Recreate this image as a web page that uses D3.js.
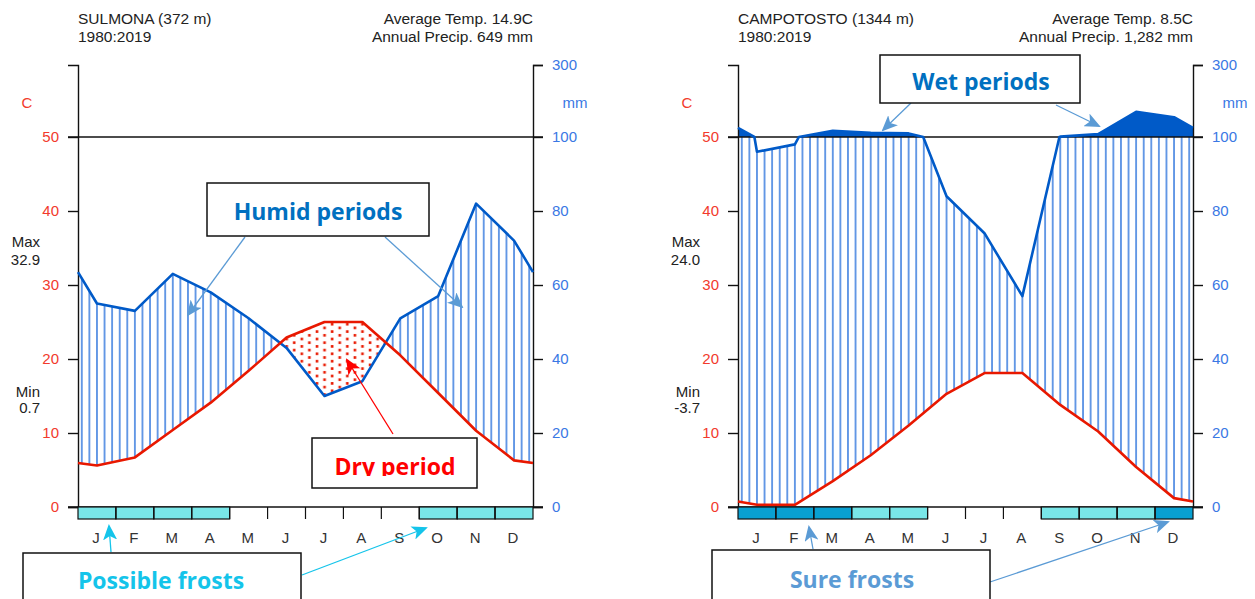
<!DOCTYPE html>
<html>
<head>
<meta charset="utf-8">
<title>Walter-Lieth diagrams</title>
<script src="https://cdn.jsdelivr.net/npm/d3@7"></script>
<style>
  body { margin: 0; background: #fff; }
  text { font-family: "Liberation Sans", Arial, sans-serif; }
  .note { font-family: "Open Sans", Lato, sans-serif; font-weight: bold; }
</style>
</head>
<body>
<svg id="chart" width="1255" height="599"></svg>
<script>
var months = ['J', 'F', 'M', 'A', 'M', 'J', 'J', 'A', 'S', 'O', 'N', 'D'];
var tempTicks = [0, 10, 20, 30, 40, 50];
var precTicks = [0, 20, 40, 60, 80, 100, 300];

// Sulmona, mean monthly precipitation (mm) and temperature (C)
var sulmonaPrec = [55, 53, 63, 58, 51, 43, 30, 34, 51, 57, 82, 72];
var sulmonaTemp = [5.6, 6.7, 10.4, 14.1, 18.4, 22.9, 25.0, 25.0, 20.5, 15.4, 10.3, 6.3];
// frost: 0 none, 1 possible, 2 sure
var sulmonaFrost = [1, 1, 1, 1, 0, 0, 0, 0, 0, 1, 1, 1];

// Campotosto
var campoPrec = [96, 98, 117, 112, 110, 84, 74, 57, 101, 108, 170, 155];
var campoTemp = [0.3, 0.3, 3.5, 7.0, 11.0, 15.3, 18.1, 18.1, 13.8, 10.2, 5.4, 1.2];
var campoFrost = [2, 2, 2, 1, 1, 0, 0, 0, 1, 1, 1, 2];

var pcol = '#005ac8', tcol = '#e81800';
var pfcol = '#79e6e8', sfcol = '#09a0d1';

var svg = d3.select('#chart');
var defs = svg.append('defs');

// arrow heads
function marker(id, color) {
  defs.append('marker')
    .attr('id', id)
    .attr('markerUnits', 'userSpaceOnUse')
    .attr('markerWidth', 16).attr('markerHeight', 14)
    .attr('refX', 14).attr('refY', 7)
    .attr('orient', 'auto')
    .append('path')
      .attr('d', 'M0,0 L16,7 L0,14 L4,7 Z')
      .attr('fill', color);
}
marker('arr-blue', '#5b9bd5');
marker('arr-red', '#ff0000');
marker('arr-cyan', '#14c4ea');

// add the month edges (mean of Dec and Jan) and the points where a series crosses 100 mm
function monthPoints(vals) {
  var edge = (vals[0] + vals[11]) / 2;
  var pts = [{ m: 0, v: edge }];
  vals.forEach(function(v, i) { pts.push({ m: i + 0.5, v: v }); });
  pts.push({ m: 12, v: edge });
  return pts;
}
function withCrossings(pts, level) {
  var out = [pts[0]];
  for (var i = 1; i < pts.length; i++) {
    var a = pts[i - 1], b = pts[i];
    if ((a.v - level) * (b.v - level) < 0) {
      var f = (level - a.v) / (b.v - a.v);
      out.push({ m: a.m + f * (b.m - a.m), v: level });
    }
    out.push(b);
  }
  return out;
}

function drawChart(cfg) {
  var left = cfg.left, right = left + 455;
  var g = svg.append('g');

  var x = d3.scaleLinear().domain([0, 12]).range([left, right]);
  var yT = d3.scaleLinear().domain([0, 50, 60]).range([507, 137, 65]);
  var yP = d3.scaleLinear().domain([0, 100, 300]).range([507, 137, 65]);

  var pPts = withCrossings(monthPoints(cfg.prec), 100);
  var tPts = monthPoints(cfg.temp);

  // patterns
  var step = 455 / 60;
  defs.append('pattern')
    .attr('id', cfg.id + '-hatch')
    .attr('patternUnits', 'userSpaceOnUse')
    .attr('x', left).attr('y', 0)
    .attr('width', step).attr('height', 10)
    .append('line')
      .attr('x1', step / 2).attr('x2', step / 2)
      .attr('y1', 0).attr('y2', 10)
      .attr('stroke', '#2a72dc').attr('stroke-width', 1.4);
  var dots = defs.append('pattern')
    .attr('id', cfg.id + '-dots')
    .attr('patternUnits', 'userSpaceOnUse')
    .attr('x', left).attr('y', 0)
    .attr('width', step * 2).attr('height', 7.4);
  dots.append('rect').attr('x', step / 2 - 1.2).attr('y', 1).attr('width', 2.6).attr('height', 2.6).attr('fill', tcol);
  dots.append('rect').attr('x', step * 1.5 - 1.2).attr('y', 4.7).attr('width', 2.6).attr('height', 2.6).attr('fill', tcol);

  // clips
  var belowPrec = d3.area().x(function(d) { return x(d.m); }).y0(507).y1(function(d) { return yP(d.v); });
  var abovePrec = d3.area().x(function(d) { return x(d.m); }).y0(yT(60)).y1(function(d) { return yP(d.v); });
  defs.append('clipPath').attr('id', cfg.id + '-below')
    .append('path').attr('d', belowPrec(pPts));
  defs.append('clipPath').attr('id', cfg.id + '-above')
    .append('path').attr('d', abovePrec(pPts));

  // humid hatch: above temperature, below precipitation, up to 100 mm
  g.append('path')
    .attr('d', d3.area().x(function(d) { return x(d.m); })
      .y0(function(d) { return yT(d.v); }).y1(yT(50))(tPts))
    .attr('fill', 'url(#' + cfg.id + '-hatch)')
    .attr('clip-path', 'url(#' + cfg.id + '-below)');

  // dry dots: below temperature, above precipitation
  g.append('path')
    .attr('d', d3.area().x(function(d) { return x(d.m); })
      .y0(507).y1(function(d) { return yT(d.v); })(tPts))
    .attr('fill', 'url(#' + cfg.id + '-dots)')
    .attr('clip-path', 'url(#' + cfg.id + '-above)');

  // very wet: solid above 100 mm
  g.append('rect')
    .attr('x', left).attr('y', yT(60))
    .attr('width', 455).attr('height', yT(50) - yT(60))
    .attr('fill', pcol)
    .attr('clip-path', 'url(#' + cfg.id + '-below)');

  // horizontal lines at 0 and 50
  [0, 50].forEach(function(v) {
    g.append('line')
      .attr('x1', left - 10).attr('x2', right + 10)
      .attr('y1', yT(v)).attr('y2', yT(v))
      .attr('stroke', '#111').attr('stroke-width', 1.4);
  });

  // axes
  var axL = g.append('g').attr('transform', 'translate(' + left + ',0)')
    .call(d3.axisLeft(yT).tickValues(tempTicks).tickSize(10).tickSizeOuter(10).tickPadding(9));
  var axR = g.append('g').attr('transform', 'translate(' + right + ',0)')
    .call(d3.axisRight(yP).tickValues(precTicks).tickSize(10).tickSizeOuter(10).tickPadding(9));
  [axL, axR].forEach(function(a) {
    a.selectAll('path, line').attr('stroke', '#111').attr('stroke-width', 1.4);
    a.selectAll('text').style('font-family', '"Liberation Sans", Arial, sans-serif').style('font-size', '15px');
  });
  axL.selectAll('text').attr('fill', '#f23a2c');
  axR.selectAll('text').attr('fill', '#3a78e4');

  // lines
  g.append('path')
    .attr('d', d3.line().x(function(d) { return x(d.m); }).y(function(d) { return yP(d.v); })(pPts))
    .attr('fill', 'none').attr('stroke', pcol).attr('stroke-width', 2.6)
    .attr('stroke-linejoin', 'round');
  g.append('path')
    .attr('d', d3.line().x(function(d) { return x(d.m); }).y(function(d) { return yT(d.v); })(tPts))
    .attr('fill', 'none').attr('stroke', tcol).attr('stroke-width', 2.6)
    .attr('stroke-linejoin', 'round');

  // frost row
  var fr = g.append('g');
  fr.selectAll('rect')
    .data(cfg.frost.map(function(f, i) { return { f: f, i: i }; }).filter(function(d) { return d.f > 0; }))
    .enter().append('rect')
      .attr('x', function(d) { return x(d.i); })
      .attr('y', 507)
      .attr('width', x(1) - x(0))
      .attr('height', 12)
      .attr('fill', function(d) { return d.f === 2 ? sfcol : pfcol; })
      .attr('stroke', '#111').attr('stroke-width', 1.2);
  fr.selectAll('line')
    .data(d3.range(1, 12))
    .enter().append('line')
      .attr('x1', function(d) { return x(d); }).attr('x2', function(d) { return x(d); })
      .attr('y1', 507).attr('y2', 519)
      .attr('stroke', '#111').attr('stroke-width', 1.2);

  g.selectAll('text.month')
    .data(months)
    .enter().append('text')
      .attr('class', 'month')
      .attr('x', function(d, i) { return x(i + 0.5) - 1; })
      .attr('y', 543)
      .attr('text-anchor', 'middle')
      .attr('fill', '#333')
      .style('font-size', '15px')
      .text(function(d) { return d; });

  // titles
  function label(txt, xx, yy, anchor, color, size) {
    g.append('text').attr('x', xx).attr('y', yy)
      .attr('text-anchor', anchor).attr('fill', color)
      .style('font-size', (size || 15) + 'px').text(txt);
  }
  label(cfg.name, left, 24, 'start', '#222', 15.5);
  label('1980:2019', left, 42, 'start', '#222', 15.5);
  label(cfg.avg, right, 24, 'end', '#222', 15.5);
  label(cfg.annual, right, 42, 'end', '#222', 15.5);
  label('C', left - 51, 108, 'middle', '#f23a2c');
  label('mm', right + 42, 108, 'middle', '#3a78e4');
  label('Max', left - 38, 247, 'end', '#222');
  label(cfg.max, left - 38, 265, 'end', '#222');
  label('Min', left - 38, 397, 'end', '#222');
  label(cfg.min, left - 38, 413, 'end', '#222');
}

drawChart({ id: 'sul', left: 78, prec: sulmonaPrec, temp: sulmonaTemp, frost: sulmonaFrost,
  name: 'SULMONA (372 m)', avg: 'Average Temp. 14.9C', annual: 'Annual Precip. 649 mm',
  max: '32.9', min: '0.7' });
drawChart({ id: 'cam', left: 738, prec: campoPrec, temp: campoTemp, frost: campoFrost,
  name: 'CAMPOTOSTO (1344 m)', avg: 'Average Temp. 8.5C', annual: 'Annual Precip. 1,282 mm',
  max: '24.0', min: '-3.7' });

// annotation boxes
var notes = svg.append('g');
function arrow(x1, y1, x2, y2, color, mk) {
  notes.append('line')
    .attr('x1', x1).attr('y1', y1).attr('x2', x2).attr('y2', y2)
    .attr('stroke', color).attr('stroke-width', 1.3)
    .attr('marker-end', 'url(#' + mk + ')');
}
function box(x0, y0, w, h, txt, color, tx, ty, clipY) {
  notes.append('rect')
    .attr('x', x0).attr('y', y0).attr('width', w).attr('height', h)
    .attr('fill', '#fff').attr('stroke', '#111').attr('stroke-width', 1.5);
  var t = notes.append('text')
    .attr('class', 'note')
    .attr('x', tx).attr('y', ty)
    .attr('text-anchor', 'middle')
    .attr('fill', color)
    .style('font-size', '23px')
    .text(txt);
  if (clipY) {
    defs.append('clipPath').attr('id', 'clip-dry')
      .append('rect').attr('x', x0).attr('y', y0).attr('width', w).attr('height', clipY - y0);
    t.attr('clip-path', 'url(#clip-dry)');
  }
}

arrow(245, 237, 188, 315, '#5b9bd5', 'arr-blue');
arrow(385, 237, 462, 307, '#5b9bd5', 'arr-blue');
box(207, 183, 222, 53, 'Humid periods', '#0070c0', 318, 220);

arrow(393, 434, 347, 360, '#ff0000', 'arr-red');
box(312, 438, 165, 50, 'Dry period', '#ff0000', 395, 475, 476);

arrow(111, 552, 109, 526, '#14c4ea', 'arr-cyan');
arrow(302, 575, 426, 528, '#14c4ea', 'arr-cyan');
box(23, 553, 278, 60, 'Possible frosts', '#14c4ea', 161, 589);

arrow(911, 103, 883, 130, '#5b9bd5', 'arr-blue');
arrow(1056, 105, 1099, 126, '#5b9bd5', 'arr-blue');
box(880, 55, 200, 48, 'Wet periods', '#0070c0', 981, 90);

arrow(813, 549, 809, 527, '#5b9bd5', 'arr-blue');
arrow(990, 582, 1168, 522, '#5b9bd5', 'arr-blue');
box(712, 550, 278, 60, 'Sure frosts', '#5b9bd5', 852, 588);
</script>
</body>
</html>
